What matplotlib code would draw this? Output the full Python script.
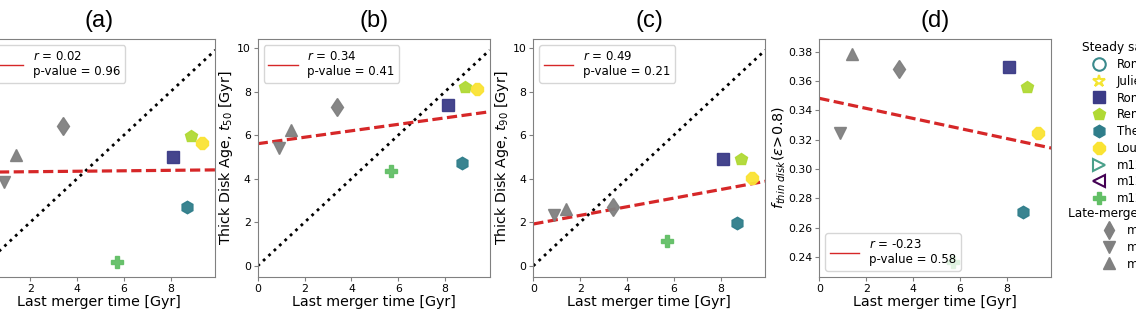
import numpy as np
import matplotlib
matplotlib.use("Agg")
import matplotlib.pyplot as plt
from matplotlib.lines import Line2D

# last merger time [Gyr] for the plotted galaxies
names = ["m12b", "m12c", "m12w", "m12m", "Romulus", "Thelma", "Remus", "Louise"]
t_merger = [0.9, 1.4, 3.4, 5.7, 8.1, 8.7, 8.85, 9.35]

# y quantities for each panel
t_10 = [3.86, 5.10, 6.40, 0.20, 5.00, 2.70, 5.97, 5.66]
t_50 = [5.40, 6.24, 7.31, 4.37, 7.36, 4.72, 8.21, 8.11]
t_90 = [2.33, 2.59, 2.71, 1.15, 4.89, 1.95, 4.89, 4.05]
f_thin = [0.3243, 0.3782, 0.3682, 0.2362, 0.3693, 0.2705, 0.3557, 0.3243]

stats = [(0.02, 0.96), (0.34, 0.41), (0.49, 0.21), (-0.23, 0.58)]
titles = ["(a)", "(b)", "(c)", "(d)"]
ylabels = [r"Thick Disk Age, $t_{10}$ [Gyr]", r"Thick Disk Age, $t_{50}$ [Gyr]",
           r"Thick Disk Age, $t_{90}$ [Gyr]", r"$f_{thin\ disk}(\epsilon\!>\!0.8)$"]

# legend entries
steady_names = ["Romeo", "Juliet", "Romulus", "Remus", "Thelma", "Louise", "m12i", "m12f", "m12m"]
steady_markers = ["o", "*", "s", "p", "h", "8", ">", "<", "P"]
steady_colors = ["#3a8a8c", "#f4e532", "#3b3b87", "#b0d934", "#2f7d8a", "#fae333",
                 "#4aa08a", "#440154", "#62bf66"]
steady_open = [True, True, False, False, False, False, True, True, False]
late_names = ["m12w", "m12b", "m12c"]
late_markers = ["d", "v", "^"]

# style per plotted galaxy
pt_marker = ["v", "^", "d", "P", "s", "h", "p", "8"]
pt_color = ["gray", "gray", "gray", "#62bf66", "#3b3b87", "#2f7d8a", "#b0d934", "#fae333"]
pt_size = [9, 9, 9.5, 8.5, 8.5, 9, 9, 9]

W, H = 1136, 315
fig = plt.figure(figsize=(W / 100, H / 100), dpi=100)

lefts = [-16.7, 257.7, 533.3, 819.3]
ys = [t_10, t_50, t_90, f_thin]

for k in range(4):
    ax = fig.add_axes([lefts[k] / W, 38.3 / H, 232 / W, 237.4 / H])
    y = ys[k]
    for i in range(len(t_merger)):
        ax.plot(t_merger[i], y[i], marker=pt_marker[i], color=pt_color[i],
                ms=pt_size[i], ls="none", alpha=0.95, zorder=3)
    xx = np.array([0, 9.9])
    slope, icpt = np.polyfit(t_merger, y, 1)
    ax.plot(xx, slope * xx + icpt, ls="--", color="#d62728", lw=2.3, dashes=(3.2, 1.4), zorder=2)
    if k < 3:
        ax.plot(xx, xx, ls=":", color="black", lw=2, zorder=1)
        ax.set_ylim(-0.495, 10.395)
        ax.set_yticks([0, 2, 4, 6, 8, 10])
        loc = "upper left"
    else:
        ax.set_ylim(0.2265, 0.3885)
        ax.set_yticks([0.24, 0.26, 0.28, 0.30, 0.32, 0.34, 0.36, 0.38])
        loc = "lower left"
    ax.set_xlim(0, 9.9)
    ax.set_xticks([0, 2, 4, 6, 8])
    r, p = stats[k]
    ax.legend(handles=[Line2D([], [], color="#d62728", lw=1)],
              labels=["$r$ = %.2f\np-value = %.2f" % (r, p)],
              loc=loc, fontsize=8.5, handlelength=2.5)
    ax.set_xlabel("Last merger time [Gyr]", fontsize=10.3, labelpad=1)
    ax.set_ylabel(ylabels[k], fontsize=10.3, labelpad=1 if k < 3 else 0)
    ax.set_title(titles[k], fontsize=17, family="Liberation Sans", pad=9)
    ax.tick_params(labelsize=7.8, length=3, color="gray", pad=2)
    for s in ax.spines.values():
        s.set_color("gray")

# galaxy legends on the right
h_steady = []
for i in range(len(steady_names)):
    if steady_open[i]:
        h = Line2D([], [], marker=steady_markers[i], ls="none", ms=9,
                   markerfacecolor="none", markeredgecolor=steady_colors[i], mew=1.5)
    else:
        h = Line2D([], [], marker=steady_markers[i], ls="none", ms=9,
                   color=steady_colors[i])
    h_steady.append(h)
h_late = [Line2D([], [], marker=m, ls="none", ms=9, color="gray") for m in late_markers]

leg1 = fig.legend(h_steady, steady_names, title="Steady sample", loc="upper left",
                  bbox_to_anchor=(1074 / W, 1 - 33 / H), frameon=False,
                  fontsize=8.5, title_fontsize=8.7, handletextpad=0.5,
                  labelspacing=0.32, borderpad=0.2)
leg2 = fig.legend(h_late, late_names, title="Late-merger sample", loc="upper left",
                  bbox_to_anchor=(1060 / W, 1 - 199 / H), frameon=False,
                  fontsize=8.5, title_fontsize=8.7, handletextpad=0.5,
                  labelspacing=0.32, borderpad=0.2)

fig.savefig("out.png", dpi=100)
